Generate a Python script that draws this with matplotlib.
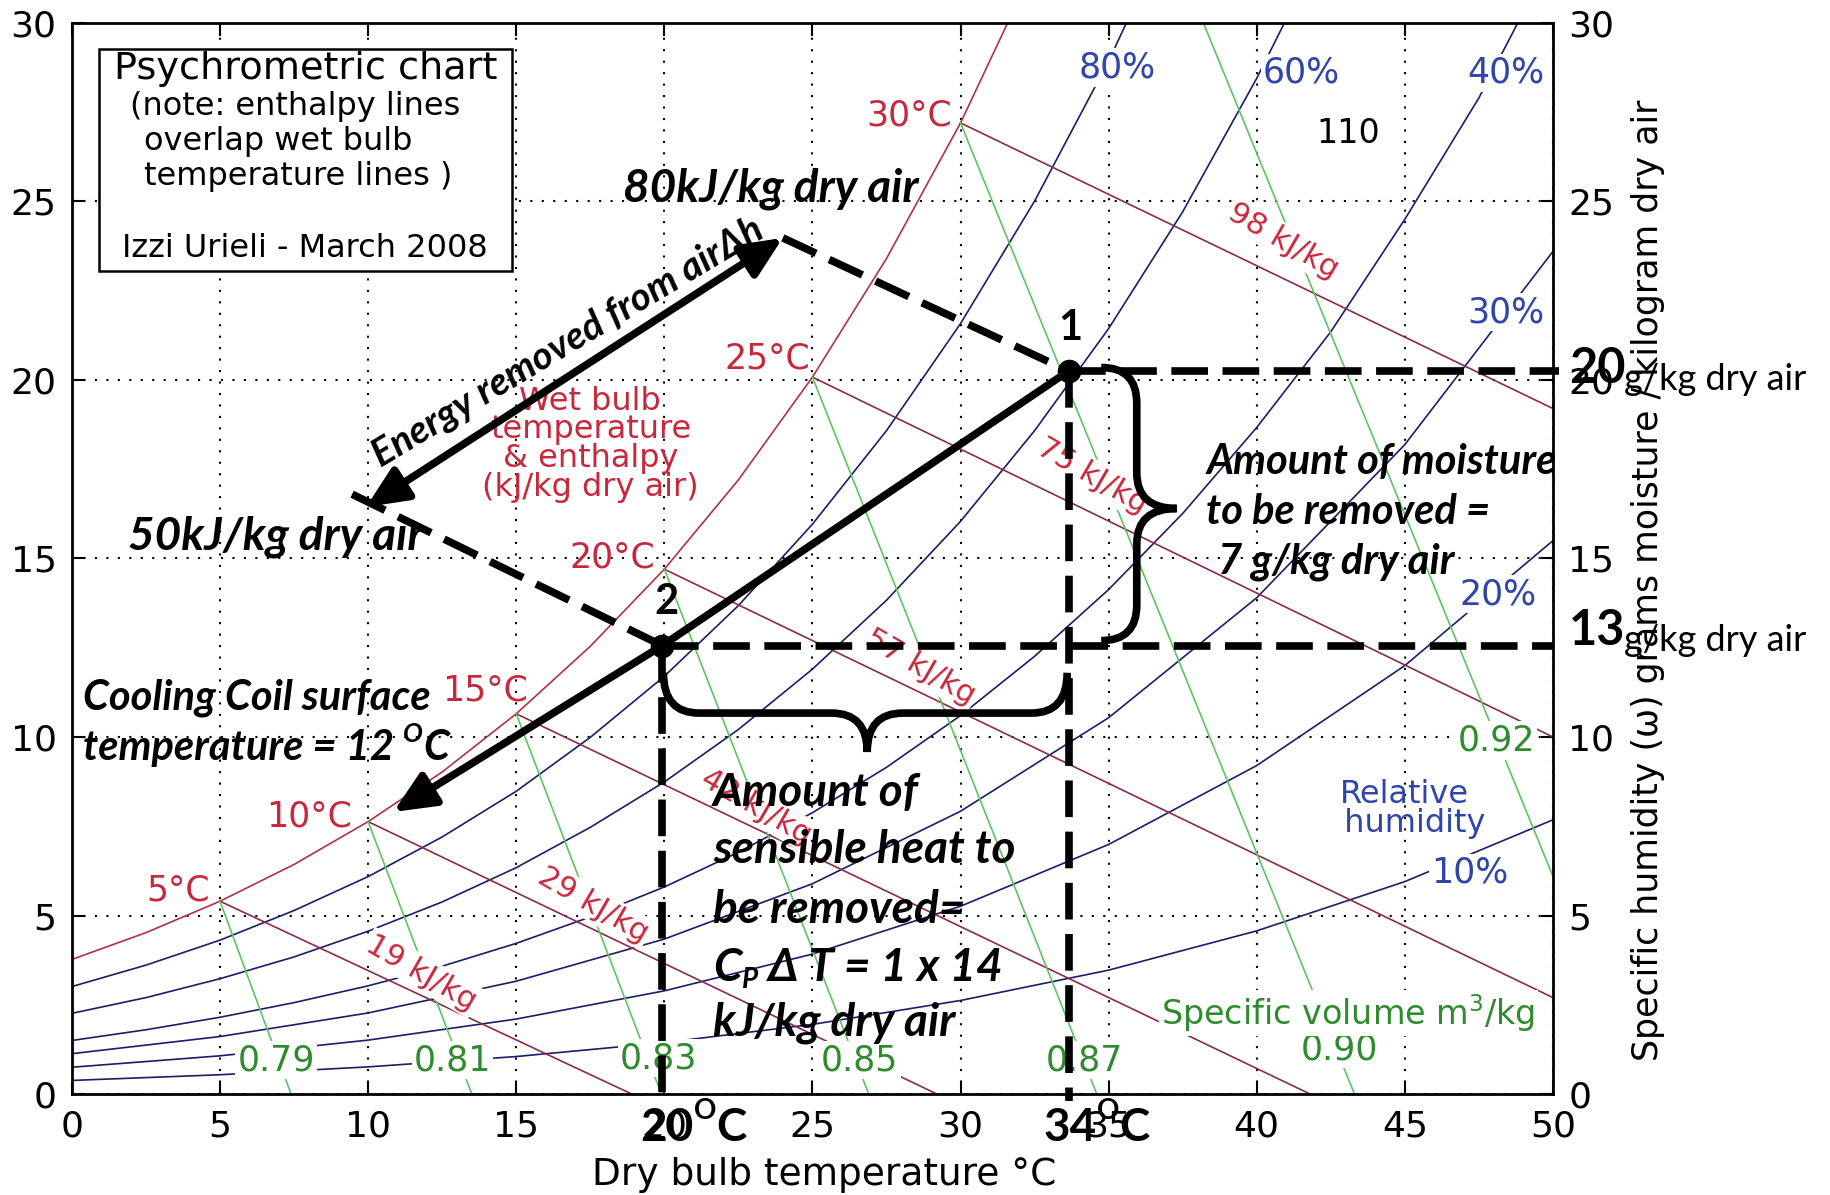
import matplotlib
matplotlib.use("Agg")
import matplotlib.pyplot as plt
from matplotlib.path import Path
from matplotlib.patches import PathPatch, Rectangle

# ---------------- values ----------------
# dry bulb temperatures (deg C) where the humidity curves were read
t_fine = [0, 2.5, 5, 7.5, 10, 12.5, 15, 17.5, 20, 22.5, 25, 27.5, 30,
          32.5, 35, 37.5, 40, 42.5, 45, 47.5, 50]
t_coarse = [0, 5, 10, 15, 20, 25, 30, 35, 40, 45, 50]

# specific humidity (g/kg dry air) along the relative humidity curves
rh100 = [3.77, 4.52, 5.40, 6.43, 7.63, 9.02, 10.65, 12.54, 14.70, 17.20, 20.08, 23.40, 27.2, 31.6]
rh80 = [3.01, 3.61, 4.31, 5.14, 6.09, 7.20, 8.48, 9.99, 11.70, 13.68, 15.96, 18.58, 21.58, 25.01, 28.93, 33.4]
rh60 = [2.26, 2.70, 3.23, 3.84, 4.56, 5.38, 6.34, 7.47, 8.74, 10.21, 11.90, 13.83, 16.04, 18.58,
        21.44, 24.71, 28.45, 32.6]
rh40 = [1.50, 1.80, 2.15, 2.56, 3.03, 3.58, 4.22, 4.96, 5.80, 6.77, 7.88, 9.15, 10.60, 12.26,
        14.13, 16.26, 18.67, 21.35, 24.5, 27.9, 31.9]
rh30 = [1.13, 1.61, 2.27, 3.16, 4.34, 5.89, 7.92, 10.54, 13.90, 18.19, 23.6]
rh20 = [0.75, 1.07, 1.51, 2.10, 2.89, 3.92, 5.26, 6.99, 9.20, 12.0, 15.5]
rh10 = [0.38, 0.54, 0.76, 1.05, 1.44, 1.95, 2.62, 3.47, 4.57, 5.95, 7.68]

rh_labels = ['80%', '60%', '40%', '30%', '20%', '10%']
rh_lab_x = [35.3, 41.5, 48.4, 48.4, 48.15, 47.2]
rh_lab_y = [28.75, 28.6, 28.6, 21.9, 14.0, 6.2]

# wet bulb / enthalpy lines (start on saturation, end on the frame)
wb_labels = ['5°C', '10°C', '15°C', '20°C', '25°C', '30°C']
wb_lab_x = [4.66, 9.46, 15.4, 19.7, 24.93, 29.7]
wb_lab_y = [5.7, 7.76, 11.3, 15.04, 20.6, 27.4]
h_labels = ['19 kJ/kg', '29 kJ/kg', '42 kJ/kg', '57 kJ/kg', '75 kJ/kg', '98 kJ/kg']
h_t0 = [5, 10, 15, 20, 25, 30]
h_w0 = [5.40, 7.63, 10.65, 14.70, 20.08, 27.2]
h_t1 = [18.9, 29.2, 41.8, 50, 50, 50]
h_w1 = [0, 0, 0, 2.7, 10.0, 19.2]
h_lab_x = [11.8, 17.6, 23.1, 28.65, 34.46, 40.9]
h_lab_y = [3.4, 5.3, 8.05, 11.96, 17.3, 23.9]

# specific volume lines
vol_labels = ['0.79', '0.81', '0.83', '0.85', '0.87', '0.90', '0.92']
vol_t0 = [5, 10, 15, 20, 25, 30, 38.2]
vol_w0 = [5.40, 7.63, 10.65, 14.70, 20.08, 27.2, 30]
vol_t1 = [7.4, 13.5, 19.9, 26.9, 34.6, 43.3, 50]
vol_w1 = [0, 0, 0, 0, 0, 0, 6.1]
vol_lab_x = [6.9, 12.85, 19.8, 26.6, 34.2, 42.8, 48.1]
vol_lab_y = [0.95, 0.95, 1.0, 0.95, 0.95, 1.26, 9.9]

# process states drawn on top of the chart
p1 = (33.65, 20.25)   # state 1
p2 = (19.93, 12.56)   # state 2
h_hi = (24.0, 23.98)  # 80 kJ/kg end of the energy arrow
h_lo = (9.93, 16.44)  # 50 kJ/kg end of the energy arrow
coil = (10.85, 7.9)   # coil surface end of the process line

# ---------------- styling ----------------
plt.rcParams['font.family'] = ['DejaVu Sans']
ann_family = ['Lato', 'Open Sans', 'DejaVu Sans']
c_rh = '#1c1c6a'
c_h = '#8c2b4a'
c_sat = '#b23048'
c_vol = '#5cc65c'
c_red = '#c8283c'
c_blue = '#2f45aa'
c_green = '#2e8b2e'
white_box = dict(facecolor='white', edgecolor='none', pad=1.5)

fig = plt.figure(figsize=(18.3, 11.95), dpi=100)
ax = fig.add_axes([0.0393, 0.0845, 0.8093, 0.8963])
ax.set_xlim(0, 50)
ax.set_ylim(0, 30)
ax.set_xticks(range(0, 51, 5))
ax.set_yticks(range(0, 31, 5))
ax.grid(True, color='k', lw=1.5, ls=(0, (1, 4.5)))
ax.tick_params(direction='in', length=9, width=1.5, top=True, right=True,
               labelright=True, labelsize=26, pad=11)
for s in ax.spines.values():
    s.set_linewidth(2)

# humidity curves
ax.plot(t_fine[:len(rh100)], rh100, color=c_sat, lw=1.2, zorder=2)
for w in [rh80, rh60, rh40]:
    ax.plot(t_fine[:len(w)], w, color=c_rh, lw=1.2, zorder=2)
for w in [rh30, rh20, rh10]:
    ax.plot(t_coarse, w, color=c_rh, lw=1.2, zorder=2)

# enthalpy / wet bulb lines and specific volume lines
for i in range(len(h_t0)):
    ax.plot([h_t0[i], h_t1[i]], [h_w0[i], h_w1[i]], color=c_h, lw=1.2, zorder=2)
for i in range(len(vol_t0)):
    ax.plot([vol_t0[i], vol_t1[i]], [vol_w0[i], vol_w1[i]], color=c_vol, lw=1.2, zorder=2)

# chart labels
for lab, x, y in zip(rh_labels, rh_lab_x, rh_lab_y):
    ax.text(x, y, lab, color=c_blue, fontsize=25, ha='center', va='center', bbox=white_box, zorder=3)
for lab, x, y in zip(wb_labels, wb_lab_x, wb_lab_y):
    ax.text(x, y, lab, color=c_red, fontsize=25, ha='right', va='center', zorder=3)
for lab, x, y in zip(h_labels, h_lab_x, h_lab_y):
    ax.text(x, y, lab, color=c_red, fontsize=22, ha='center', va='center', rotation=-30,
            rotation_mode='anchor', bbox=white_box, zorder=3)
for lab, x, y in zip(vol_labels, vol_lab_x, vol_lab_y):
    ax.text(x, y, lab, color=c_green, fontsize=25, ha='center', va='center', bbox=white_box, zorder=3)

ax.text(17.5, 18.2, 'Wet bulb\ntemperature\n& enthalpy\n(kJ/kg dry air)', color=c_red, fontsize=23,
        ha='center', va='center', linespacing=0.9, zorder=3)
ax.text(45.0, 7.98, 'Relative\n  humidity', color=c_blue, fontsize=23, ha='center', va='center',
        linespacing=0.9, zorder=3)
ax.text(43.1, 2.27, 'Specific volume m$^3$/kg', color=c_green, fontsize=24, ha='center', va='center',
        bbox=white_box, zorder=3)
ax.text(43.1, 26.9, '110', color='k', fontsize=24, ha='center', va='center', zorder=3)

# info box
ax.add_patch(Rectangle((0.91, 23.05), 13.95, 6.22, facecolor='white', edgecolor='k', lw=1.8, zorder=4))
ax.text(7.88, 28.7, 'Psychrometric chart', fontsize=27.5, ha='center', va='center', zorder=5)
ax.text(1.97, 27.65, '(note: enthalpy lines', fontsize=23, ha='left', va='center', zorder=5)
ax.text(2.45, 26.67, 'overlap wet bulb', fontsize=23, ha='left', va='center', zorder=5)
ax.text(2.45, 25.7, 'temperature lines )', fontsize=23, ha='left', va='center', zorder=5)
ax.text(7.88, 23.67, 'Izzi Urieli - March 2008', fontsize=23, ha='center', va='center', zorder=5)

ax.text(0.508, -0.0756, 'Dry bulb temperature °C', transform=ax.transAxes, fontsize=27,
        ha='center', va='center')
ax.text(1.064, 0.48, 'Specific humidity (ω) grams moisture / kilogram dry air', transform=ax.transAxes,
        fontsize=25, rotation=90, ha='center', va='center')

# ---------------- process annotations ----------------
lw_k = 5.5
dash = (0, (4.8, 1.9))
ax.plot([p1[0], 50.2], [p1[1], p1[1]], color='k', lw=lw_k, ls=dash, clip_on=False, zorder=6)
ax.plot([p2[0], 50.0], [p2[1], p2[1]], color='k', lw=lw_k, ls=dash, clip_on=False, zorder=6)
ax.plot([p1[0], p1[0]], [p1[1], -0.2], color='k', lw=lw_k, ls=dash, clip_on=False, zorder=6)
ax.plot([p2[0], p2[0]], [p2[1], -0.2], color='k', lw=lw_k, ls=dash, clip_on=False, zorder=6)
ax.plot([h_hi[0], p1[0]], [h_hi[1], p1[1]], color='k', lw=lw_k, ls=dash, zorder=6)
ax.plot([9.46, p2[0]], [16.8, p2[1]], color='k', lw=lw_k, ls=dash, zorder=6)

ax.plot([p1[0], p2[0]], [p1[1], p2[1]], color='k', lw=lw_k, solid_capstyle='round', zorder=6)
ax.annotate('', xy=coil, xytext=p2,
            arrowprops=dict(arrowstyle='-|>,head_length=1.0,head_width=0.45', mutation_scale=25,
                            lw=lw_k, color='k', shrinkA=0, shrinkB=0), zorder=6)
ax.annotate('', xy=h_hi, xytext=h_lo,
            arrowprops=dict(arrowstyle='<|-|>,head_length=1.0,head_width=0.45', mutation_scale=25,
                            lw=lw_k, color='k', shrinkA=0, shrinkB=0), zorder=6)
ax.plot([p1[0], p2[0]], [p1[1], p2[1]], 'o', color='k', ms=16, zorder=7)

# curly braces
vx0, vxb, vxt, vytop, vybot, vym, vr = 34.75, 35.95, 37.3, 20.35, 12.7, 16.4, 1.0
vbrace = Path([(vx0, vytop), (vxb, vytop), (vxb, vytop - vr), (vxb, vym + vr), (vxb, vym), (vxt, vym),
               (vxb, vym), (vxb, vym - vr), (vxb, vybot + vr), (vxb, vybot), (vx0, vybot)],
              [Path.MOVETO, Path.CURVE3, Path.CURVE3, Path.LINETO, Path.CURVE3, Path.CURVE3,
               Path.CURVE3, Path.CURVE3, Path.LINETO, Path.CURVE3, Path.CURVE3])
ax.add_patch(PathPatch(vbrace, fill=False, lw=lw_k, edgecolor='k', zorder=6))
hx0, hx1, hy, hyb, hxt, hyt, hr = 19.97, 33.6, 11.8, 10.67, 26.85, 9.58, 1.2
hbrace = Path([(hx0, hy), (hx0, hyb), (hx0 + hr, hyb), (hxt - hr, hyb), (hxt, hyb), (hxt, hyt),
               (hxt, hyb), (hxt + hr, hyb), (hx1 - hr, hyb), (hx1, hyb), (hx1, hy)],
              [Path.MOVETO, Path.CURVE3, Path.CURVE3, Path.LINETO, Path.CURVE3, Path.CURVE3,
               Path.CURVE3, Path.CURVE3, Path.LINETO, Path.CURVE3, Path.CURVE3])
ax.add_patch(PathPatch(hbrace, fill=False, lw=lw_k, edgecolor='k', zorder=6))

bi = dict(family=ann_family, weight='bold', style='italic', color='k', zorder=8, va='center')
ax.text(18.6, 25.35, '80kJ/kg dry air', fontsize=33, ha='left', **bi)
ax.text(1.9, 15.6, '50kJ/kg dry air', fontsize=33, ha='left', **bi)
ax.text(16.75, 21.05, 'Energy removed from airΔh', fontsize=28, rotation=31,
        rotation_mode='anchor', ha='center', **bi)
ax.text(0.37, 11.1, 'Cooling Coil surface', fontsize=30, ha='left', **bi)
t12 = ax.text(0.37, 9.7, 'temperature = 12 ', fontsize=30, ha='left', **bi)
tO = ax.annotate('O', xy=(1, 0.55), xycoords=t12, fontsize=19, family=ann_family, weight='bold',
                 style='italic', va='bottom', ha='left', zorder=8)
ax.annotate('C', xy=(1, 0), xycoords=(tO, t12), fontsize=30, family=ann_family, weight='bold',
            style='italic', va='bottom', ha='left', zorder=8)

ax.text(38.3, 17.7, 'Amount of moisture', fontsize=30, ha='left', **bi)
ax.text(38.3, 16.3, 'to be removed =', fontsize=30, ha='left', **bi)
ax.text(38.7, 14.9, '7 g/kg dry air', fontsize=30, ha='left', **bi)

ax.text(21.65, 8.43, 'Amount of', fontsize=33, ha='left', **bi)
ax.text(21.65, 6.83, 'sensible heat to', fontsize=33, ha='left', **bi)
ax.text(21.65, 5.15, 'be removed=', fontsize=33, ha='left', **bi)
tC = ax.text(21.65, 3.53, 'C', fontsize=33, ha='left', **bi)
tP = ax.annotate('P', xy=(1, -0.1), xycoords=tC, fontsize=20, family=ann_family, weight='bold',
                 style='italic', va='bottom', ha='left', zorder=8)
ax.annotate(' Δ T = 1 x 14', xy=(1, 0), xycoords=(tP, tC), fontsize=33, family=ann_family,
            weight='bold', style='italic', va='bottom', ha='left', zorder=8)
ax.text(21.65, 1.99, 'kJ/kg dry air', fontsize=33, ha='left', **bi)

bu = dict(family=ann_family, weight='bold', color='k', zorder=8, va='center', clip_on=False)
ax.text(33.7, 21.45, '1', fontsize=30, ha='center', **bu)
ax.text(20.07, 13.78, '2', fontsize=30, ha='center', **bu)
ax.text(50.55, 20.33, '20', fontsize=35, ha='left', **bu)
ax.text(52.4, 20.0, 'g/kg dry air', fontsize=26, family=ann_family, color='k', va='center', ha='left',
        clip_on=False, zorder=8)
ax.text(50.55, 12.97, '13', fontsize=35, ha='left', **bu)
ax.text(52.4, 12.7, 'g/kg dry air', fontsize=26, family=ann_family, color='k', va='center', ha='left',
        clip_on=False, zorder=8)

for xt, lab in [(19.2, '20'), (32.8, '34')]:
    tt = ax.text(xt, -0.95, lab, fontsize=33, ha='left', **bu)
    to = ax.annotate('O', xy=(1, 0.6), xycoords=tt, fontsize=20, family=ann_family, weight='bold',
                     va='bottom', ha='left', zorder=8, annotation_clip=False)
    ax.annotate('C', xy=(1, 0), xycoords=(to, tt), fontsize=33, family=ann_family, weight='bold',
                va='bottom', ha='left', zorder=8, annotation_clip=False)

fig.savefig('out.png', dpi=100)
